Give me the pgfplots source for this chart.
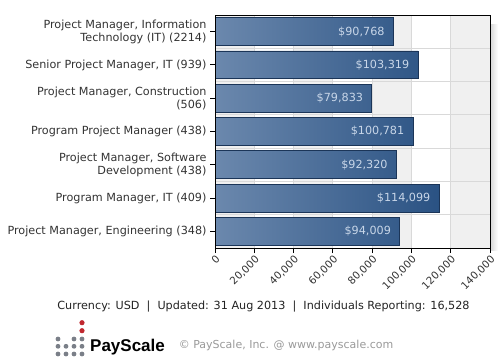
\documentclass[border=0pt]{standalone}
\usepackage{pgfplots}
\pgfplotsset{compat=1.18}
\usepackage{pgfplotstable}
\usepackage{fontspec}
\setmainfont{DejaVu Sans}
\newfontfamily\logofont{Liberation Sans}
\definecolor{txt}{HTML}{333333}
\definecolor{foot}{HTML}{222222}
\definecolor{gridc}{HTML}{D9D9D9}
\definecolor{bandc}{HTML}{F0F0F0}
\definecolor{barL}{HTML}{6B88AD}
\definecolor{barM}{HTML}{2F5F97}
\definecolor{barR}{HTML}{2A5283}
\definecolor{barB}{HTML}{1B3558}
\definecolor{valc}{HTML}{C8D6E8}
\definecolor{dotg}{HTML}{7A7F88}
\definecolor{dotr}{HTML}{C0282F}
\definecolor{copyc}{HTML}{999999}

\pgfplotstableread{
y x label
0 90768 90,768
1 103319 103,319
2 79833 79,833
3 100781 100,781
4 92320 92,320
5 114099 114,099
6 94009 94,009
}\salary

\begin{document}
\begin{tikzpicture}
\begin{scope}[x=1bp,y=1bp]
\path (0,0) rectangle (500,360);
\shade[left color=black!14, right color=white] (491,110) rectangle (498,336);
\end{scope}
\begin{axis}[
  at={(215bp,112bp)}, anchor=south west,
  scale only axis, width=275bp, height=233bp,
  set layers,
  xmin=0, xmax=140000, ymin=-0.5, ymax=6.5, y dir=reverse,
  xtick={0,20000,40000,60000,80000,100000,120000,140000},
  scaled x ticks=false,
  xticklabel style={/pgf/number format/fixed, /pgf/number format/1000 sep={,}, /pgf/number format/assume math mode=true},
  x tick label style={rotate=45, anchor=north east, font=\fontsize{10.3bp}{12bp}\selectfont, text=txt, inner sep=1bp},
  ytick={0,1,2,3,4,5,6},
  yticklabels={{Project Manager, Information\\Technology (IT) (2214)},
    {Senior Project Manager, IT (939)},
    {Project Manager, Construction\\(506)},
    {Program Project Manager (438)},
    {Project Manager, Software\\Development (438)},
    {Program Manager, IT (409)},
    {Project Manager, Engineering (348)}},
  y tick label style={align=right, font=\fontsize{11.2bp}{13bp}\selectfont, text=txt},
  minor ytick={0.5,1.5,2.5,3.5,4.5,5.5},
  yminorgrids=true, xmajorgrids=true,
  major grid style={color=gridc, line width=0.9bp},
  minor grid style={color=gridc, line width=0.9bp},
  tick align=outside, xtick pos=bottom, ytick pos=left,
  major tick length=5bp, minor tick length=0pt,
  tick style={black, line width=0.9bp},
  axis line style={black, line width=1bp},
]
\begin{pgfonlayer}{axis background}
\fill[bandc] (axis cs:0,-0.5) rectangle (axis cs:20000,6.5);
\fill[bandc] (axis cs:40000,-0.5) rectangle (axis cs:60000,6.5);
\fill[bandc] (axis cs:80000,-0.5) rectangle (axis cs:100000,6.5);
\fill[bandc] (axis cs:120000,-0.5) rectangle (axis cs:140000,6.5);
\end{pgfonlayer}
\addplot[xbar, bar width=0.84, draw=barB, line width=0.9bp,
  left color=barL, middle color=barM, right color=barR,
  point meta=explicit symbolic,
  nodes near coords={\$\pgfplotspointmeta},
  every node near coord/.append style={anchor=east, xshift=-5bp, text=valc,
    font=\fontsize{11.2bp}{12bp}\selectfont}]
  table[x=x, y=y, meta=label]{\salary};
\draw[black, line width=1bp] (rel axis cs:0,0) -- (rel axis cs:0,1);
\end{axis}
\begin{scope}[x=1bp,y=1bp]
\node[text=foot, font=\fontsize{11.2bp}{13bp}\selectfont] at (263.5,53)
  {Currency: USD~~|~~Updated: 31 Aug 2013~~|~~Individuals Reporting: 16,528};
\foreach \cx/\cy in {58/339,74/339,82/339,58/346.3,66/346.3,74/346.3,82/346.3,58/354,66/354,74/354,82/354}
  \fill[dotg] (\cx,360-\cy) circle (2.4);
\foreach \cy in {322.7,330.7}
  \fill[dotr] (82,360-\cy) circle (2.6);
\node[anchor=base west, inner sep=0, font=\logofont\bfseries\fontsize{17bp}{20bp}\selectfont, text=black] at (90,8.5) {PayScale};
\node[text=copyc, font=\fontsize{11bp}{13bp}\selectfont] at (286,15) {\textcopyright{} PayScale, Inc. @ www.payscale.com};
\end{scope}
\end{tikzpicture}
\end{document}
